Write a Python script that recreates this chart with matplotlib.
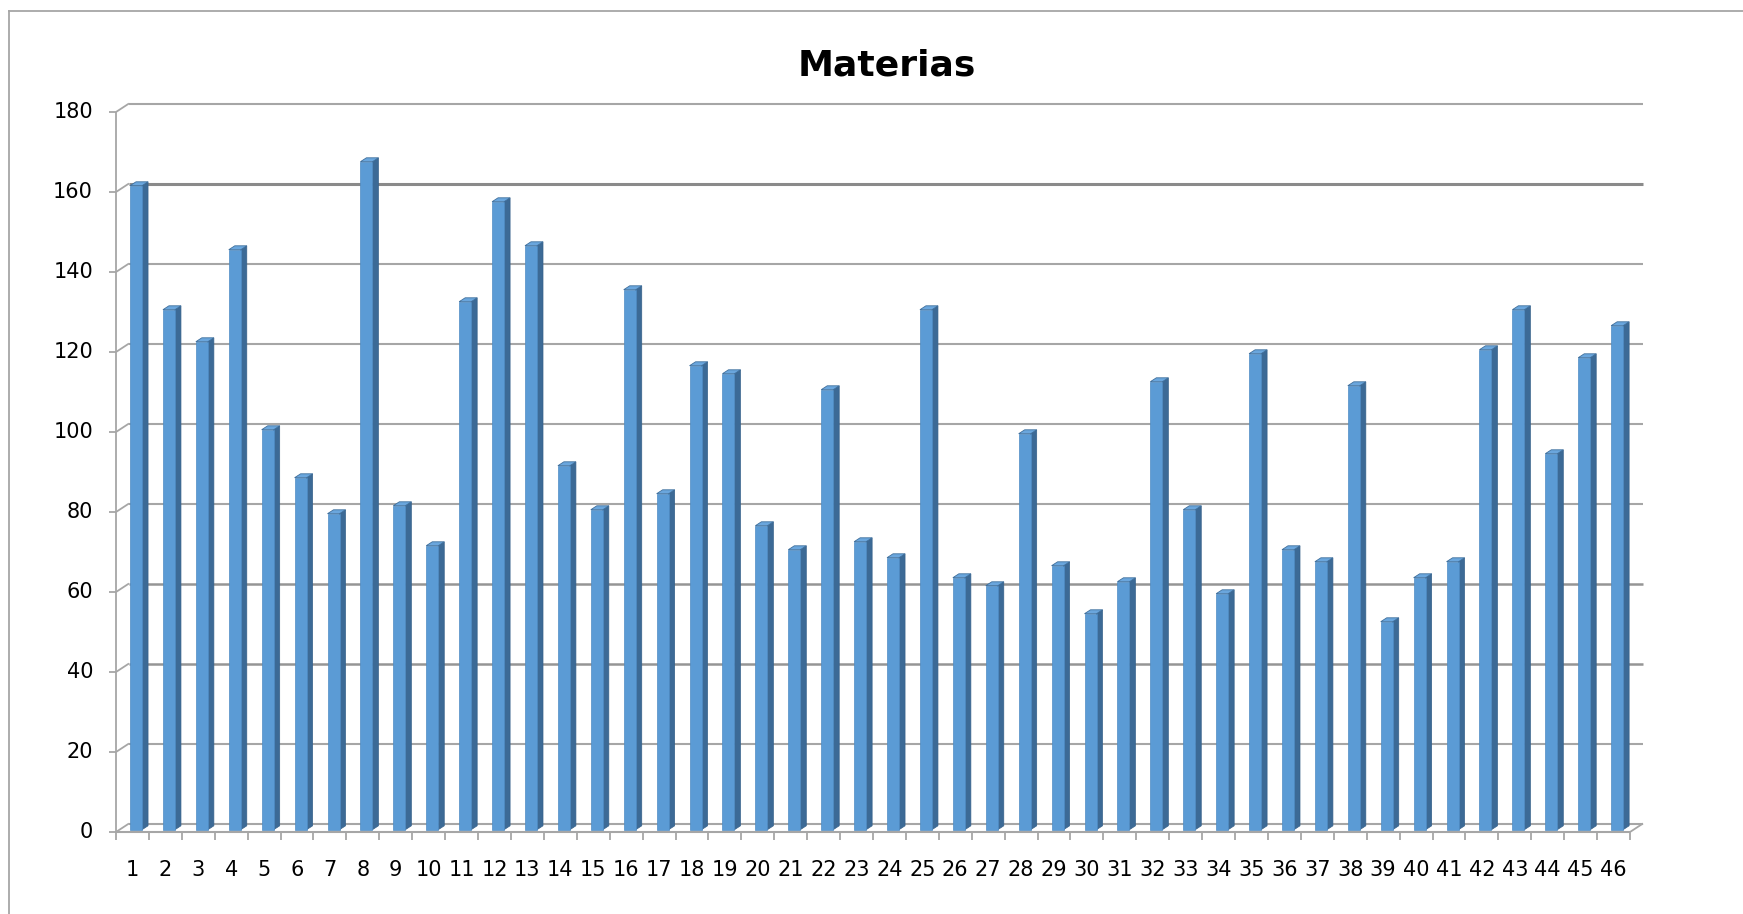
import matplotlib.pyplot as plt
from matplotlib.patches import Polygon
from matplotlib.lines import Line2D
from matplotlib.transforms import IdentityTransform

plt.rcParams["font.family"] = ["DejaVu Sans"]

# datos del gráfico
materias = list(range(1, 47))
valores = [161, 130, 122, 145, 100, 88, 79, 167, 81, 71,
           132, 157, 146, 91, 80, 135, 84, 116, 114, 76,
           70, 110, 72, 68, 130, 63, 61, 99, 66, 54,
           62, 112, 80, 59, 119, 70, 67, 111, 52, 63,
           67, 120, 130, 94, 118, 126]
y_ticks = list(range(0, 181, 20))
titulo = "Materias"

W, H = 1743, 914
fig = plt.figure(figsize=(W / 100, H / 100), dpi=100)
ax = fig.add_axes([116 / W, (H - 832) / H, (1630 - 116) / W, 720 / H])
ax.set_xlim(0, len(materias))
ax.set_ylim(0, 180)
ax.axis("off")

# desplazamientos de profundidad (pixeles) para el falso 3D
FONDO = (13, 8.5)
BAR_FRENTE = (3.5, 2.3)
BAR_ATRAS = (9.5, 6.2)
IDT = IdentityTransform()


def px(x, y, d=(0, 0)):
    X, Y = ax.transData.transform((x, y))
    return X + d[0], Y + d[1]


def linea(p0, p1, color="#a3a3a3", lw=1.5, z=1):
    ax.add_line(Line2D([p0[0], p1[0]], [p0[1], p1[1]], transform=IDT,
                       color=color, lw=lw, zorder=z, clip_on=False,
                       solid_capstyle="butt"))


n = len(materias)
# rejilla en la pared del fondo
for v in y_ticks:
    if v == 160:
        c, lw = "#8a8a8a", 2.2
    elif v in (60, 40):
        c, lw = "#959595", 1.8
    else:
        c, lw = "#a6a6a6", 1.5
    linea(px(0, v, FONDO), px(n, v, FONDO), c, lw)
    # conector diagonal y marca del eje
    linea(px(0, v), px(0, v, FONDO), "#a6a6a6", 1.3)
    linea(px(0, v, (-7, 0)), px(0, v), "#a6a6a6", 1.3)
    ax.annotate(str(v), (0, v), xytext=(-23 * 0.72, 0), textcoords="offset points",
                ha="right", va="center", fontsize=15, color="#000000")

# eje vertical frontal
linea(px(0, 0), px(0, 180), "#a6a6a6", 1.3)
# suelo: borde derecho
linea(px(n, 0), px(n, 0, FONDO), "#a6a6a6", 1.3)

# barras
ancho = 0.365
izq = 0.32
for i, v in enumerate(valores):
    x0 = i + izq
    x1 = x0 + ancho
    frente = [px(x0, 0, BAR_FRENTE), px(x1, 0, BAR_FRENTE),
              px(x1, v, BAR_FRENTE), px(x0, v, BAR_FRENTE)]
    lado = [px(x1, 0, BAR_FRENTE), px(x1, 0, BAR_ATRAS),
            px(x1, v, BAR_ATRAS), px(x1, v, BAR_FRENTE)]
    tapa = [px(x0, v, BAR_FRENTE), px(x1, v, BAR_FRENTE),
            px(x1, v, BAR_ATRAS), px(x0, v, BAR_ATRAS)]
    ax.add_patch(Polygon(lado, closed=True, transform=IDT, clip_on=False,
                         facecolor="#3c6a96", edgecolor="#36618a", lw=0.5, zorder=3))
    ax.add_patch(Polygon(frente, closed=True, transform=IDT, clip_on=False,
                         facecolor="#5b9bd5", edgecolor="#4f8cc4", lw=0.5, zorder=3))
    ax.add_patch(Polygon(tapa, closed=True, transform=IDT, clip_on=False,
                         facecolor="#6aa6dd", edgecolor="#3f6f9c", lw=0.6, zorder=3))

# borde frontal del suelo y marcas de categoría
linea(px(0, 0), px(n, 0), "#a6a6a6", 1.5, z=4)
for k in range(n + 1):
    linea(px(k, 0), px(k, 0, (0, -8)), "#a6a6a6", 1.3, z=4)

for i, m in enumerate(materias):
    ax.annotate(str(m), (i + 0.5, 0), xytext=(0, -38 * 0.72), textcoords="offset points",
                ha="center", va="center", fontsize=15, color="#000000")

fig.text(886.5 / W, (H - 75) / H, titulo, ha="center", va="baseline",
         fontsize=26, fontweight="bold", color="#000000")

# marco del área del gráfico
fig.add_artist(Line2D([9 / W, 1], [1 - 11 / H, 1 - 11 / H], color="#a6a6a6", lw=1.3))
fig.add_artist(Line2D([9 / W, 9 / W], [0, 1 - 11 / H], color="#a6a6a6", lw=1.3))

fig.savefig("out.png", dpi=100)
